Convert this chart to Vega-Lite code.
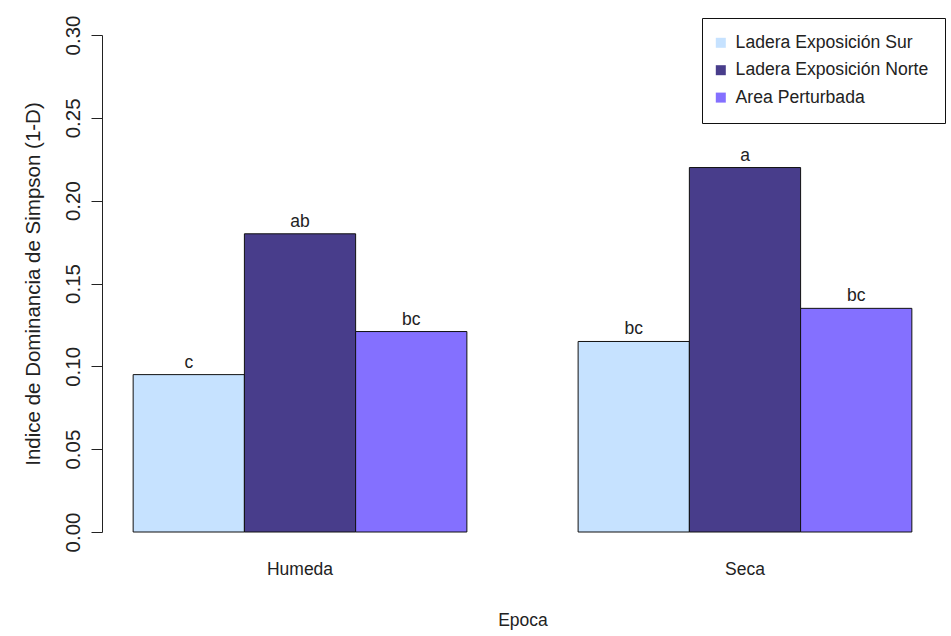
{
  "$schema": "https://vega.github.io/schema/vega-lite/v6.json",
  "autosize": {"type": "none"},
  "width": 841,
  "height": 497,
  "padding": {"left": 102, "top": 35, "right": 8, "bottom": 104},
  "background": "white",
  "config": {
    "view": {"stroke": null},
    "font": "Liberation Sans"
  },
  "data": {
    "values": [
      {"epoca": "Humeda", "sitio": "Ladera Exposición Sur", "indice": 0.095, "grupo": "c"},
      {"epoca": "Humeda", "sitio": "Ladera Exposición Norte", "indice": 0.18, "grupo": "ab"},
      {"epoca": "Humeda", "sitio": "Area Perturbada", "indice": 0.121, "grupo": "bc"},
      {"epoca": "Seca", "sitio": "Ladera Exposición Sur", "indice": 0.115, "grupo": "bc"},
      {"epoca": "Seca", "sitio": "Ladera Exposición Norte", "indice": 0.22, "grupo": "a"},
      {"epoca": "Seca", "sitio": "Area Perturbada", "indice": 0.135, "grupo": "bc"}
    ]
  },
  "encoding": {
    "x": {
      "field": "epoca",
      "type": "nominal",
      "sort": ["Humeda", "Seca"],
      "scale": {"paddingInner": 0.25, "paddingOuter": 0.07},
      "axis": {
        "title": "Epoca",
        "labelAngle": 0,
        "domain": false,
        "ticks": false,
        "labelFontSize": 17.5,
        "labelColor": "#222222",
        "labelPadding": 28,
        "titleFontSize": 17.5,
        "titleFontWeight": "normal",
        "titleColor": "#222222",
        "titlePadding": 34
      }
    },
    "xOffset": {
      "field": "sitio",
      "type": "nominal",
      "sort": ["Ladera Exposición Sur", "Ladera Exposición Norte", "Area Perturbada"],
      "scale": {"paddingInner": 0, "paddingOuter": 0}
    },
    "y": {
      "field": "indice",
      "type": "quantitative",
      "scale": {"domain": [0, 0.3], "nice": false, "zero": true},
      "axis": {
        "title": "Indice de Dominancia de Simpson (1-D)",
        "values": [0, 0.05, 0.1, 0.15, 0.2, 0.25, 0.3],
        "format": ".2f",
        "grid": false,
        "domainColor": "#222222",
        "tickColor": "#222222",
        "tickSize": 11,
        "labelAngle": -90,
        "labelFontSize": 20.5,
        "labelColor": "#222222",
        "labelPadding": 8,
        "titleFontSize": 20.5,
        "titleFontWeight": "normal",
        "titleColor": "#222222",
        "titlePadding": 20
      }
    }
  },
  "layer": [
    {
      "mark": {"type": "bar", "stroke": "#111111", "strokeWidth": 1},
      "encoding": {
        "color": {
          "field": "sitio",
          "type": "nominal",
          "sort": ["Ladera Exposición Sur", "Ladera Exposición Norte", "Area Perturbada"],
          "scale": {
            "domain": ["Ladera Exposición Sur", "Ladera Exposición Norte", "Area Perturbada"],
            "range": ["#C6E2FF", "#483D8B", "#8470FF"]
          },
          "legend": {
            "title": null,
            "orient": "none",
            "legendX": 600,
            "legendY": -17,
            "strokeColor": "#111111",
            "fillColor": "white",
            "padding": 16,
            "symbolType": "square",
            "symbolSize": 100,
            "symbolStrokeWidth": 0,
            "symbolOffset": -6,
            "labelFontSize": 17.6,
            "labelColor": "#222222",
            "labelOffset": 6,
            "labelLimit": 400,
            "rowPadding": 8.4
          }
        }
      }
    },
    {
      "mark": {
        "type": "text",
        "baseline": "alphabetic",
        "dy": -7,
        "fontSize": 17.5,
        "color": "#222222"
      },
      "encoding": {
        "text": {"field": "grupo"}
      }
    }
  ]
}
